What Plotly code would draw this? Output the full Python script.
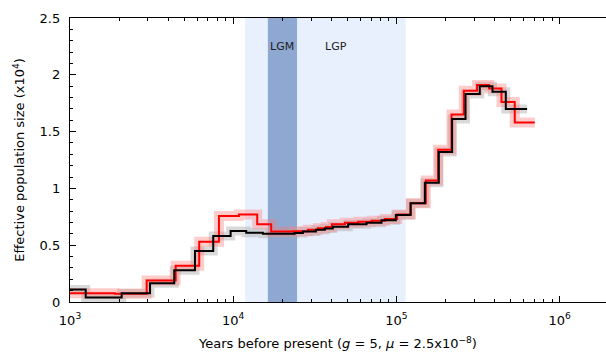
import numpy as np
import plotly.graph_objects as go

# ---- data ----
years_black = [1000, 1248, 2073, 3090, 4352, 5830, 7543, 9641, 12014, 15200, 23770, 26720,
               32090, 36430, 40780, 50600, 65600, 81030, 99150, 121980, 149250, 181850,
               219370, 265000, 324100, 387700, 467800, 631700]
ne_black = [0.11, 0.04, 0.077, 0.165, 0.28, 0.45, 0.58, 0.625, 0.61, 0.60, 0.607, 0.62,
            0.635, 0.648, 0.663, 0.684, 0.698, 0.72, 0.766, 0.87, 1.05, 1.32,
            1.61, 1.83, 1.90, 1.85, 1.70, 1.70]

years_red = [1000, 1886, 2950, 4439, 6190, 8175, 10840, 14030, 17090, 23210, 28670, 33020,
             36960, 40210, 48310, 58300, 70400, 84920, 101000, 122500, 151400, 180000,
             217500, 258700, 311900, 369600, 440200, 530900, 704100]
ne_red = [0.077, 0.072, 0.19, 0.32, 0.53, 0.757, 0.77, 0.684, 0.62, 0.622, 0.635, 0.65,
          0.66, 0.684, 0.698, 0.707, 0.716, 0.73, 0.77, 0.87, 1.07, 1.34,
          1.65, 1.86, 1.91, 1.88, 1.76, 1.58, 1.58]

lgp_range = [11800, 114000]
lgm_range = [16300, 24600]
period_labels = ["LGM", "LGP"]
period_label_x = [19900, 42500]
period_label_y = 2.245

x_tickvals = [1e3, 1e4, 1e5, 1e6]
x_ticktext = ["10<sup>3</sup>", "10<sup>4</sup>", "10<sup>5</sup>", "10<sup>6</sup>"]
y_tickvals = [0, 0.5, 1, 1.5, 2, 2.5]
y_ticktext = ["0", "0.5", "1", "1.5", "2", "2.5"]

FONT = "DejaVu Sans"
fig = go.Figure()

# shaded periods
for rng, col in [(lgp_range, "#e8f0fd"), (lgm_range, "#8fa8d2")]:
    fig.add_trace(go.Scatter(x=[rng[0], rng[0], rng[1], rng[1]], y=[0, 2.5, 2.5, 0],
                             fill="toself", fillcolor=col, line=dict(width=0),
                             mode="lines", hoverinfo="skip", showlegend=False))

# bootstrap bands
fig.add_trace(go.Scatter(x=years_black, y=ne_black, mode="lines", line_shape="hv",
                         line=dict(color="rgba(170,170,170,0.45)", width=9), showlegend=False))
fig.add_trace(go.Scatter(x=years_red, y=ne_red, mode="lines", line_shape="hv",
                         line=dict(color="rgba(255,120,120,0.38)", width=10), showlegend=False))
# main lines
fig.add_trace(go.Scatter(x=years_red, y=ne_red, mode="lines", line_shape="hv",
                         line=dict(color="#ff0000", width=2), showlegend=False))
fig.add_trace(go.Scatter(x=years_black, y=ne_black, mode="lines", line_shape="hv",
                         line=dict(color="#000000", width=2), showlegend=False))

for txt, xv in zip(period_labels, period_label_x):
    fig.add_annotation(x=np.log10(xv), y=period_label_y, xref="x", yref="y", text=txt,
                       showarrow=False, font=dict(family=FONT, size=11, color="#222222"))

minor_x = [m * 10 ** e for e in range(3, 7) for m in range(2, 10)]

fig.update_layout(
    width=606, height=361,
    margin=dict(l=70, r=0, t=18, b=59),
    paper_bgcolor="white", plot_bgcolor="white",
    font=dict(family=FONT, size=13, color="black"),
    xaxis=dict(type="log", range=[3, 6.284], showgrid=False, zeroline=False,
               showline=True, linecolor="black", linewidth=1.4, mirror="ticks",
               ticks="inside", ticklen=6, tickwidth=1, tickcolor="black",
               tickmode="array", tickvals=x_tickvals, ticktext=x_ticktext,
               ticklabelstandoff=6, tickfont=dict(size=13),
               minor=dict(ticks="inside", ticklen=3, tickcolor="black", tickwidth=1,
                          tickmode="array", tickvals=minor_x, showgrid=False),
               title=dict(text="Years before present (<i>g</i> = 5, <i>μ</i> = 2.5x10<sup>−8</sup>)",
                          font=dict(size=13), standoff=12)),
    yaxis=dict(range=[0, 2.5], showgrid=False, zeroline=False,
               showline=True, linecolor="black", linewidth=1.4,
               ticks="inside", ticklen=6, tickwidth=1, tickcolor="black",
               tickmode="array", tickvals=y_tickvals, ticktext=y_ticktext,
               ticklabelstandoff=6, tickfont=dict(size=13),
               minor=dict(ticks="inside", ticklen=3, tickcolor="black", tickwidth=1,
                          dtick=0.1, showgrid=False),
               title=dict(text="Effective population size (x10<sup>4</sup>)",
                          font=dict(size=13), standoff=11)),
)

fig.write_html("out.html")
